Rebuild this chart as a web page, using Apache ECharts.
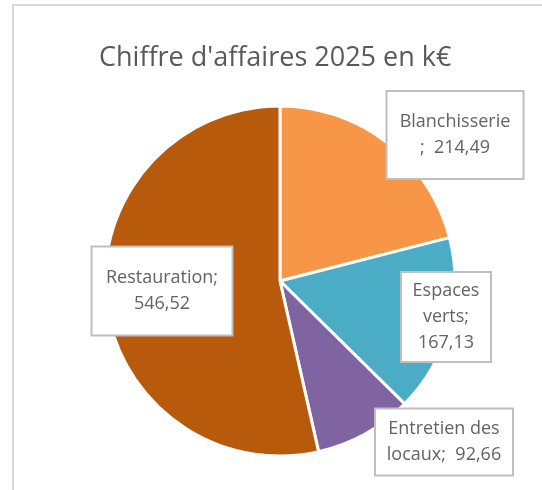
<!DOCTYPE html>
<html>
<head>
<meta charset="utf-8">
<script src="https://cdn.jsdelivr.net/npm/echarts@6/dist/echarts.min.js"></script>
<style>
  html, body { margin: 0; padding: 0; background: #ffffff; }
  #chart { width: 542px; height: 490px; }
</style>
</head>
<body>
<div id="chart"></div>
<script>
// Chiffre d'affaires 2025 par activité (k€)
const categories = ['Blanchisserie', 'Espaces verts', 'Entretien des locaux', 'Restauration'];
const values = [214.49, 167.13, 92.66, 546.52];
const colors = ['#F79646', '#4BACC6', '#8064A2', '#B85A0C'];
const titleText = "Chiffre d'affaires 2025 en k\u20ac";

// How each label wraps inside its box
const labelLines = [
  ['Blanchisserie', ';  {v}'],
  ['Espaces', 'verts;', '{v}'],
  ['Entretien des', 'locaux;  {v}'],
  ['Restauration;', '{v}']
];
// Label box placement (centre x, centre y, inner width, inner height)
const labelBoxes = [
  [455, 135, 119, 70],
  [446, 317, 72, 72],
  [444, 442, 120, 49],
  [162, 291, 123, 71]
];

const fmt = v => v.toFixed(2).replace('.', ',');

const chart = echarts.init(document.getElementById('chart'), null, { renderer: 'canvas' });

chart.setOption({
  animation: false,
  backgroundColor: '#ffffff',
  title: {
    text: titleText,
    left: 94,
    top: 40,
    textStyle: {
      fontFamily: 'Open Sans',
      fontSize: 27,
      fontWeight: 'normal',
      color: '#595959'
    }
  },
  graphic: [{
    type: 'rect',
    shape: { x: 13, y: 5, width: 540, height: 500 },
    style: { fill: 'none', stroke: '#D9D9D9', lineWidth: 2 },
    silent: true,
    z: -1
  }],
  series: [{
    type: 'pie',
    center: [280, 281],
    radius: [0, 175],
    startAngle: 90,
    clockwise: true,
    avoidLabelOverlap: false,
    itemStyle: { borderColor: '#ffffff', borderWidth: 3 },
    labelLine: { show: false },
    label: {
      show: true,
      position: 'inside',
      fontFamily: 'Open Sans',
      fontSize: 18,
      lineHeight: 26,
      color: '#636363',
      align: 'center',
      verticalAlign: 'middle',
      backgroundColor: '#ffffff',
      borderColor: '#BFBFBF',
      borderWidth: 2,
      padding: [8, 8],
      formatter: p => labelLines[p.dataIndex].join('\n').replace('{v}', fmt(p.value))
    },
    labelLayout: p => {
      const b = labelBoxes[p.dataIndex];
      return { x: b[0], y: b[1], align: 'center', verticalAlign: 'middle' };
    },
    emphasis: { disabled: true },
    data: categories.map((name, i) => ({
      name: name,
      value: values[i],
      itemStyle: { color: colors[i] },
      label: { width: labelBoxes[i][2], height: labelBoxes[i][3] }
    }))
  }]
});
</script>
</body>
</html>
